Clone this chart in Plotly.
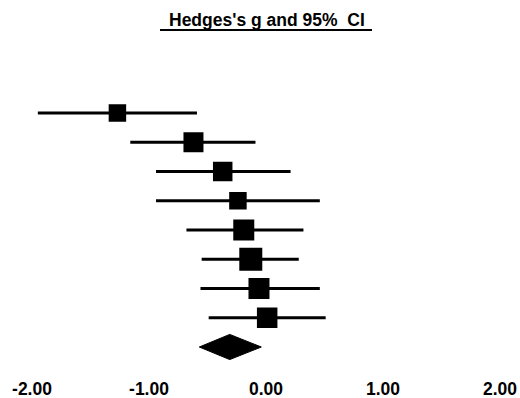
import plotly.graph_objects as go

# Hedges's g with 95% confidence limits, one row per study (top to bottom)
hedges_g = [-1.27, -0.62, -0.37, -0.24, -0.19, -0.13, -0.06, 0.01]
ci_lower = [-1.95, -1.16, -0.94, -0.94, -0.68, -0.55, -0.56, -0.49]
ci_upper = [-0.59, -0.09, 0.21, 0.46, 0.32, 0.28, 0.46, 0.51]

# Pooled estimate
summary_g = -0.31
summary_lower = -0.57
summary_upper = -0.04

# Axis ticks
tick_values = [-2, -1, 0, 1, 2]
tick_labels = ["-2.00", "-1.00", "0.00", "1.00", "2.00"]

# Box sizes (px) reflecting study weight
box_size = [17.5, 20, 19.5, 17.5, 21, 23, 21, 20.5]

W, H = 520, 398
BOTTOM = 22
FONT = "Liberation Sans"

rows = list(range(len(hedges_g)))
summary_row = len(hedges_g)

fig = go.Figure()

# Confidence interval whiskers
for r, lo, hi in zip(rows, ci_lower, ci_upper):
    fig.add_trace(go.Scatter(
        x=[lo, hi], y=[r, r], mode="lines",
        line=dict(color="black", width=3), hoverinfo="skip",
        showlegend=False,
    ))

# Point estimates
fig.add_trace(go.Scatter(
    x=hedges_g, y=rows, mode="markers",
    marker=dict(symbol="square", color="black", size=box_size,
                opacity=1, line=dict(width=0)),
    showlegend=False,
))

# Summary diamond
half_h = 0.43
fig.add_trace(go.Scatter(
    x=[summary_lower, summary_g, summary_upper, summary_g, summary_lower],
    y=[summary_row, summary_row - half_h, summary_row, summary_row + half_h, summary_row],
    mode="lines", fill="toself", fillcolor="black",
    line=dict(color="black", width=1), showlegend=False,
))

plot_h = H - BOTTOM

# Title with underline
fig.add_annotation(
    text="Hedges's g and 95%  CI", xref="paper", yref="paper",
    x=266.5 / W, y=1 - 19.5 / plot_h, xanchor="center", yanchor="middle",
    showarrow=False, font=dict(family=FONT, size=17.5, color="black", weight="bold"),
)
fig.add_shape(
    type="line", xref="paper", yref="paper",
    x0=160 / W, x1=372 / W, y0=1 - 30 / plot_h, y1=1 - 30 / plot_h,
    line=dict(color="black", width=2),
)

row_px = 29.25
first_px = 113
fig.update_layout(
    width=W, height=H,
    margin=dict(l=0, r=0, t=0, b=BOTTOM),
    paper_bgcolor="white", plot_bgcolor="white",
    xaxis=dict(
        range=[-266 / 117, (W - 266) / 117],
        tickvals=tick_values, ticktext=tick_labels,
        tickfont=dict(family=FONT, size=17.5, color="black", weight="bold"),
        showgrid=False, zeroline=False, showline=False, ticks="",
    ),
    yaxis=dict(
        range=[(plot_h - first_px) / row_px, -first_px / row_px],
        visible=False, showgrid=False, zeroline=False,
    ),
)

fig.write_html("out.html")
